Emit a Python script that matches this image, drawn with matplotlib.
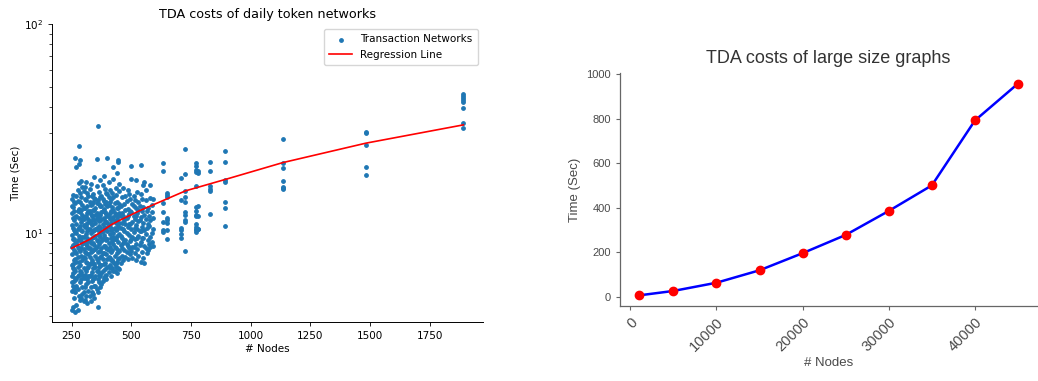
import numpy as np
import matplotlib
matplotlib.use("Agg")
import matplotlib.pyplot as plt

# left panel: daily token networks, one list of times per node count
daily_nodes = [250, 255, 260, 265, 270, 275, 280, 285, 290, 295, 300, 305,
               310, 315, 320, 325, 330, 335, 340, 345, 350, 355, 360, 365,
               370, 375, 380, 385, 390, 395, 400, 405, 410, 415, 420, 425,
               430, 435, 440, 445, 450, 455, 460, 465, 470, 475, 480, 485,
               490, 495, 500, 505, 510, 515, 520, 525, 530, 535, 540, 545,
               550, 555, 560, 565, 570, 575, 580, 585, 590,
               631, 648, 710, 727, 770, 779, 829, 894, 1134, 1483, 1891]
daily_times = [
    [4.3, 6.2, 7.9, 9.8, 12.4, 14.6, 5.3, 8.6, 5.8, 7.0, 10.9, 13.5],
    [5.6, 7.1, 8.8, 10.6, 13.3, 6.4, 15.2, 4.4, 9.4, 11.8, 6.8],
    [4.9, 6.7, 8.3, 11.5, 9.4, 12.8, 5.9, 7.4, 10.3, 14.1, 5.4],
    [4.2, 5.2, 7.5, 10.1, 13.9, 22.8, 8.1, 6.1, 9.0, 11.9, 6.6],
    [6.0, 7.3, 9.0, 11.0, 12.1, 20.6, 4.5, 5.6, 8.0, 10.0, 15.0],
    [5.4, 6.9, 8.6, 10.4, 14.2, 16.0, 7.7, 4.3, 9.3, 12.7, 6.2],
    [5.0, 6.3, 9.7, 11.8, 13.0, 17.4, 26.1, 21.4, 7.3, 8.4, 10.6],
    [5.8, 7.0, 8.2, 10.8, 12.6, 22.3, 15.5, 4.8, 6.6, 9.4, 14.0],
    [4.9, 6.5, 7.8, 9.2, 11.3, 14.8, 17.8, 6.0, 10.3, 12.9, 8.5],
    [5.5, 7.4, 8.9, 10.2, 12.2, 13.6, 5.1, 6.3, 9.6, 11.6, 16.6],
    [6.1, 6.8, 8.4, 9.6, 11.6, 15.9, 5.2, 7.7, 10.9, 13.1, 4.7],
    [4.8, 7.6, 9.1, 10.7, 13.1, 16.6, 6.3, 5.5, 8.1, 11.9, 14.5],
    [5.7, 6.6, 8.0, 9.9, 12.0, 14.4, 17.6, 7.3, 10.8, 5.0, 8.9],
    [4.6, 6.0, 7.2, 8.7, 11.1, 13.4, 9.5, 6.8, 12.5, 15.6, 10.2],
    [5.3, 6.9, 8.5, 10.5, 12.7, 15.0, 7.9, 6.2, 9.2, 11.6, 5.8],
    [5.0, 7.7, 9.3, 11.4, 14.0, 16.2, 6.2, 8.5, 10.4, 12.8, 7.1],
    [4.7, 6.3, 8.1, 10.0, 12.3, 17.1, 5.5, 7.2, 9.0, 13.6, 11.2],
    [5.9, 7.4, 9.5, 10.9, 13.7, 6.5, 8.2, 12.0, 15.0, 5.2],
    [5.1, 6.8, 8.3, 11.7, 15.3, 9.0, 7.2, 10.2, 12.9, 6.0, 14.0],
    [4.9, 7.1, 8.8, 10.3, 12.9, 14.7, 18.6, 6.1, 9.6, 11.5, 5.6],
    [6.2, 7.8, 9.7, 11.2, 13.2, 5.6, 8.4, 6.9, 10.5, 14.6, 12.2],
    [5.4, 6.6, 8.6, 10.6, 12.5, 16.8, 22.6, 7.5, 9.3, 11.6, 13.9],
    [4.4, 6.0, 7.3, 9.2, 11.9, 14.3, 32.6, 5.2, 8.1, 10.3, 6.6],
    [5.8, 7.6, 8.9, 10.8, 13.8, 15.7, 6.9, 9.8, 12.2, 6.3, 11.4],
    [5.5, 8.2, 9.6, 11.5, 12.2, 18.0, 7.0, 6.2, 10.6, 13.5, 14.9],
    [6.4, 7.0, 8.5, 10.1, 13.5, 15.1, 7.8, 9.2, 11.7, 5.7, 12.6],
    [5.9, 7.5, 9.4, 11.0, 12.8, 14.5, 8.0, 6.6, 10.2, 16.9],
    [6.1, 8.0, 9.8, 11.8, 13.0, 18.8, 7.1, 8.7, 10.7, 14.2],
    [6.7, 7.2, 8.7, 10.4, 12.6, 16.3, 9.5, 11.4, 6.2, 13.7],
    [6.3, 7.9, 9.3, 11.3, 14.1, 6.0, 8.5, 10.6, 12.3, 15.5],
    [6.9, 8.4, 10.2, 12.0, 15.4, 22.8, 7.5, 9.4, 11.2, 13.5],
    [6.5, 7.7, 9.0, 10.9, 13.6, 17.5, 8.3, 12.1, 6.9, 14.8],
    [7.0, 8.6, 9.9, 11.6, 12.4, 16.0, 7.6, 10.7, 14.0],
    [6.2, 7.4, 9.5, 11.1, 14.6, 8.1, 10.3, 12.8, 6.8],
    [6.8, 8.3, 10.5, 12.7, 13.3, 15.6, 7.4, 9.2, 11.6],
    [7.3, 8.9, 10.0, 11.9, 14.9, 18.1, 20.7, 6.6, 9.6, 12.9],
    [6.6, 7.8, 9.4, 11.4, 13.9, 8.6, 10.6, 12.4, 7.1],
    [7.1, 8.5, 10.3, 12.2, 15.2, 16.4, 9.4, 11.1, 6.9],
    [6.4, 8.0, 9.7, 11.7, 14.0, 19.4, 7.3, 10.5, 13.1],
    [7.5, 9.1, 10.8, 13.1, 21.8, 22.3, 8.3, 12.0, 6.8],
    [6.7, 8.2, 9.9, 12.5, 15.8, 17.2, 7.6, 11.1, 13.8],
    [7.2, 8.8, 10.6, 13.4, 9.7, 12.0],
    [7.8, 9.5, 11.2, 14.8, 8.5, 12.5],
    [7.4, 9.0, 12.1, 16.5, 10.5],
    [8.3, 10.2, 11.5, 13.7, 9.2],
    [7.7, 9.3, 12.9, 15.0, 11.0],
    [8.1, 10.0, 11.8, 14.2, 8.9],
    [7.5, 8.7, 10.7, 13.0, 16.1, 12.0],
    [8.5, 9.8, 12.3, 15.4, 11.0],
    [7.9, 9.2, 11.0, 14.5, 12.8],
    [8.2, 10.4, 12.6, 18.1, 20.8, 9.4],
    [7.6, 9.6, 11.3, 13.8, 8.6],
    [8.6, 10.1, 12.0, 15.1, 13.5],
    [8.0, 9.4, 11.7, 14.3, 10.6],
    [7.4, 8.9, 10.9, 13.2, 17.9, 12.1],
    [8.4, 10.5, 12.4, 15.7, 9.5],
    [7.8, 9.7, 11.4, 14.0, 12.9],
    [8.8, 10.2, 13.5, 11.5],
    [7.3, 9.1, 11.9, 15.3, 21.2, 10.2],
    [8.1, 10.7, 12.8, 14.6, 9.5],
    [7.6, 9.5, 11.1, 13.3, 16.9],
    [7.2, 8.7, 10.3, 12.2, 17.6],
    [8.5, 9.9, 11.6, 14.4, 16.0],
    [8.0, 10.6, 12.7],
    [8.3, 9.3, 11.0, 13.1],
    [8.9, 10.8, 12.1],
    [8.6, 9.6, 11.5, 14.7, 16.9],
    [9.1, 10.0, 12.6, 13.6],
    [8.7, 10.4, 11.8, 14.5],
    [10.1, 10.3, 11.3, 12.6, 13.9, 19.8, 21.6],
    [9.4, 10.3, 11.1, 11.5, 11.8, 14.9, 15.2, 15.5],
    [9.5, 9.9, 10.3, 10.6, 14.4, 18.4],
    [8.2, 11.3, 11.5, 12.2, 12.6, 14.1, 14.9, 15.8, 19.2, 25.1],
    [10.1, 10.3, 10.5, 10.7, 11.0, 12.1, 12.2, 12.8, 13.3, 16.7, 19.5, 20.0, 20.9, 21.5],
    [10.4, 10.5, 12.0, 13.5, 19.3, 19.9],
    [12.3, 15.9, 16.3, 16.7, 19.9, 21.8],
    [10.8, 13.1, 14.1, 17.5, 17.9, 21.8, 24.8],
    [16.2, 16.4, 16.6, 17.7, 20.4, 21.6, 28.2],
    [18.9, 20.7, 26.3, 30.2, 30.5],
    [31.8, 33.7, 39.6, 42.3, 43.3, 44.2, 45.2, 46.1],
]

# regression curve
reg_nodes = [250, 327, 419, 452, 536, 727, 913, 1134, 1483, 1891]
reg_times = [8.45, 9.33, 11.0, 11.5, 12.8, 15.9, 18.3, 21.7, 26.9, 32.9]

# right panel: large graphs
large_nodes = [1000, 5000, 10000, 15000, 20000, 25000, 30000, 35000, 40000, 45000]
large_times = [5, 25, 62, 118, 195, 277, 385, 500, 792, 958]

scatter_x = np.repeat(daily_nodes, [len(t) for t in daily_times])
scatter_y = np.concatenate([np.array(t, dtype=float) for t in daily_times])

fig = plt.figure(figsize=(10.38, 3.81), dpi=100)

# ---- left: log-scale scatter + regression
ax1 = fig.add_axes([0.0501, 0.1549, 0.4152, 0.7822])
ax1.scatter(scatter_x, scatter_y, s=6, color="#1f77b4", label="Transaction Networks")
ax1.plot(reg_nodes, reg_times, color="red", linewidth=1.2, label="Regression Line")
ax1.set_yscale("log")
ax1.set_ylim(3.75, 100)
ax1.set_xticks([250, 500, 750, 1000, 1250, 1500, 1750])
ax1.set_title("TDA costs of daily token networks", fontsize=9.2, pad=4)
ax1.set_xlabel("# Nodes", fontsize=7.5, labelpad=2)
ax1.set_ylabel("Time (Sec)", fontsize=7.5, labelpad=2)
ax1.tick_params(labelsize=7.5, width=0.6, length=3)
ax1.tick_params(which="minor", width=0.5, length=2)
for side in ["top", "right"]:
    ax1.spines[side].set_visible(False)
for side in ["left", "bottom"]:
    ax1.spines[side].set_linewidth(0.7)
ax1.legend(loc="upper right", fontsize=7.5, framealpha=0.8, borderpad=0.5,
           handlelength=2.2)

# ---- right: linear line plot, seaborn-like gray styling
grey = "#4a4a4a"
ax2 = fig.add_axes([0.5973, 0.1969, 0.4017, 0.6115])
ax2.plot(large_nodes, large_times, color="blue", linewidth=1.8, marker="o",
         markersize=6, markerfacecolor="red", markeredgecolor="red", zorder=3)
ax2.set_xticks([0, 10000, 20000, 30000, 40000])
ax2.set_yticks([0, 200, 400, 600, 800, 1000])
ax2.set_title("TDA costs of large size graphs", fontsize=13, color="#333333",
              family="Liberation Sans", pad=7)
ax2.set_xlabel("# Nodes", fontsize=9.5, color=grey, family="Liberation Sans",
               labelpad=2)
ax2.set_ylabel("Time (Sec)", fontsize=9.5, color=grey, family="Liberation Sans")
ax2.tick_params(colors="#666666", labelcolor=grey, labelsize=8, width=0.8, length=3)
ax2.tick_params(axis="x", labelsize=10.5)
for lab in ax2.get_xticklabels() + ax2.get_yticklabels():
    lab.set_family("Liberation Sans")
for lab in ax2.get_xticklabels():
    lab.set_rotation(45)
    lab.set_ha("right")
    lab.set_rotation_mode("anchor")
for side in ["top", "right"]:
    ax2.spines[side].set_visible(False)
for side in ["left", "bottom"]:
    ax2.spines[side].set_color("#666666")
    ax2.spines[side].set_linewidth(0.9)

fig.savefig("out.png", dpi=100)
